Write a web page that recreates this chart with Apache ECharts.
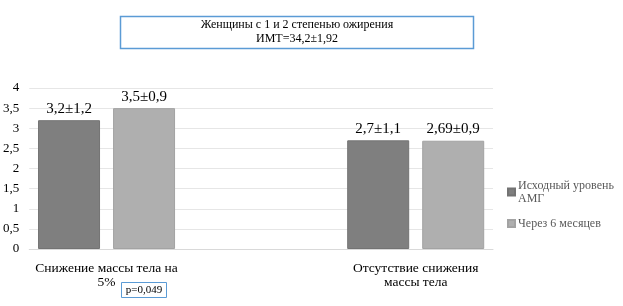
<!DOCTYPE html>
<html><head><meta charset="utf-8">
<script src="https://cdn.jsdelivr.net/npm/echarts@6/dist/echarts.min.js"></script>
<style>html,body{margin:0;padding:0;background:#fff}#c{width:623px;height:306px}</style>
</head><body><div id="c"></div>
<script>
const categories = ["Снижение массы тела на\n5%", "", "Отсутствие снижения\nмассы тела"];
const seriesNames = ["Исходный уровень АМГ", "Через 6 месяцев"];
const baseline = [3.2, null, 2.7];
const after6 = [3.5, null, 2.69];
const baselineLabels = ["3,2±1,2", "", "2,7±1,1"];
const after6Labels = ["3,5±0,9", "", "2,69±0,9"];
const titleLines = ["Женщины с 1 и 2 степенью ожирения", "ИМТ=34,2±1,92"];
const pValue = "p=0,049";

const font = "'Liberation Serif', 'Times New Roman', serif";
const chart = echarts.init(document.getElementById('c'));
chart.setOption({
  animation: false,
  textStyle: { fontFamily: font },
  grid: { left: 28, right: 130, top: 88, bottom: 57, containLabel: false },
  legend: {
    orient: 'vertical', left: 502, top: 174,
    itemWidth: 7, itemHeight: 7, itemGap: 12, icon: 'rect',
    textStyle: { fontFamily: font, fontSize: 12, color: '#595959', lineHeight: 13, padding: [0, 0, 0, -2] },
    formatter: n => n === seriesNames[0] ? "Исходный уровень\nАМГ" : n,
    data: seriesNames
  },
  xAxis: {
    type: 'category', data: categories,
    axisLine: { lineStyle: { color: '#d9d9d9' } },
    axisTick: { show: false },
    axisLabel: { fontFamily: font, fontSize: 13.5, color: '#000', lineHeight: 14, margin: 12, interval: 0 }
  },
  yAxis: {
    type: 'value', min: 0, max: 4, interval: 0.5,
    axisLine: { show: false }, axisTick: { show: false },
    splitLine: { lineStyle: { color: '#e6e6e6' } },
    axisLabel: { fontFamily: font, fontSize: 13, color: '#000', margin: 10,
      formatter: v => String(v).replace('.', ',') }
  },
  series: [
    { name: seriesNames[0], type: 'bar', data: baseline, barWidth: 62, barGap: '21%',
      itemStyle: { color: '#7f7f7f', borderColor: '#737373', borderWidth: 1 },
      label: { show: true, position: 'top', distance: 4, fontFamily: font, fontSize: 15, color: '#000',
        formatter: p => baselineLabels[p.dataIndex] } },
    { name: seriesNames[1], type: 'bar', data: after6, barWidth: 62,
      itemStyle: { color: '#afafaf', borderColor: '#a3a3a3', borderWidth: 1 },
      label: { show: true, position: 'top', distance: 4, fontFamily: font, fontSize: 15, color: '#000',
        formatter: p => after6Labels[p.dataIndex] } }
  ],
  graphic: [
    { type: 'rect', shape: { x: 120.5, y: 16.5, width: 353, height: 32 },
      style: { fill: '#fff', stroke: '#5b9bd5', lineWidth: 1.5 } },
    { type: 'text', x: 297, y: 32,
      style: { text: titleLines.join('\n'), font: "12px " + font, fill: '#000',
        align: 'center', verticalAlign: 'middle', lineHeight: 14 } },
    { type: 'rect', shape: { x: 121.5, y: 282.5, width: 45, height: 15 },
      style: { fill: '#fff', stroke: '#5b9bd5', lineWidth: 1 } },
    { type: 'text', x: 144, y: 290,
      style: { text: pValue, font: "11px " + font, fill: '#000', align: 'center', verticalAlign: 'middle' } }
  ]
});
</script></body></html>
